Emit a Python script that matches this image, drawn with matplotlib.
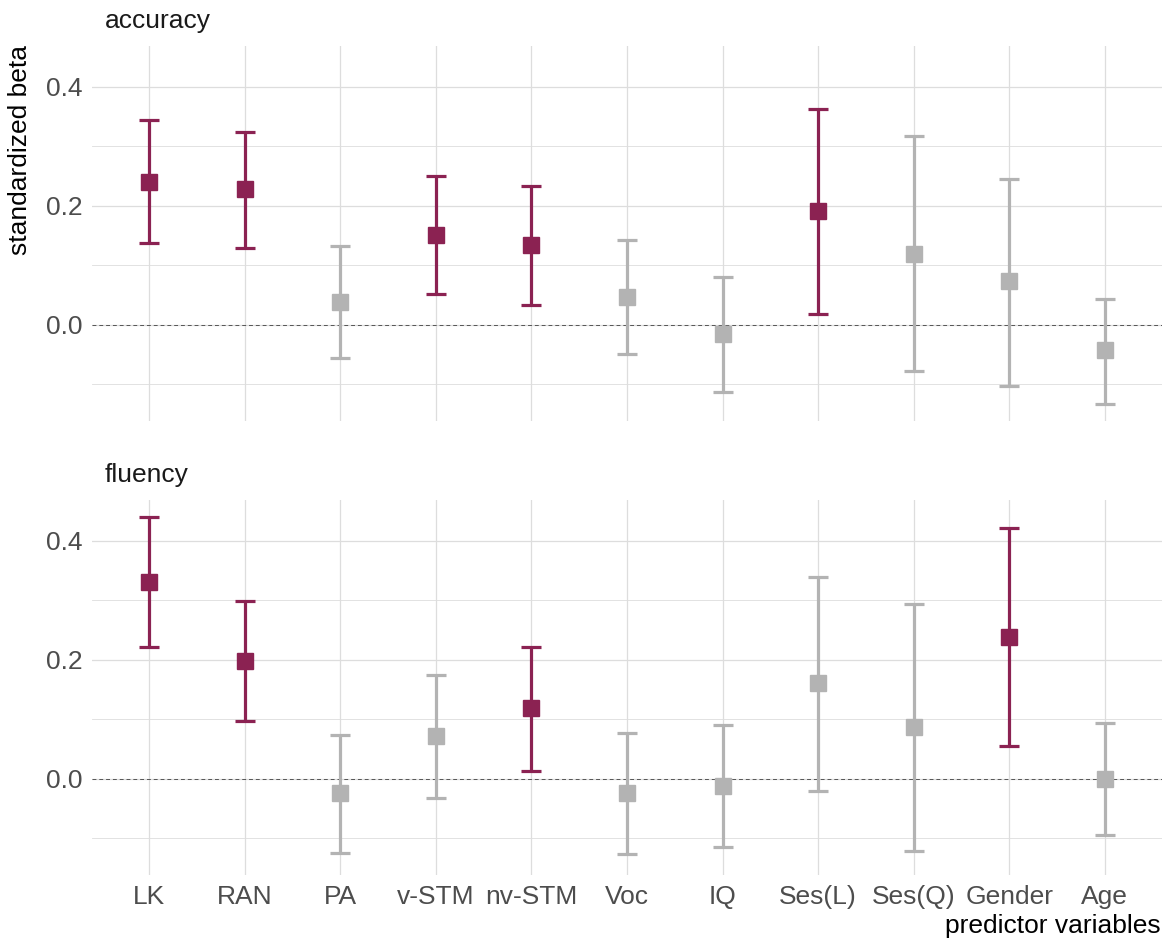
import numpy as np
import matplotlib.pyplot as plt

plt.rcParams['font.family'] = ['Liberation Sans', 'DejaVu Sans']

#predictors on the x axis
predictors = ['LK', 'RAN', 'PA', 'v-STM', 'nv-STM', 'Voc', 'IQ',
              'Ses(L)', 'Ses(Q)', 'Gender', 'Age']

#accuracy outcome: estimate, lower and upper CI bound
acc_est = [0.240, 0.228, 0.039, 0.152, 0.135, 0.047, -0.015, 0.191, 0.120, 0.073, -0.042]
acc_lo = [0.137, 0.130, -0.056, 0.052, 0.034, -0.049, -0.113, 0.019, -0.078, -0.103, -0.133]
acc_hi = [0.344, 0.324, 0.133, 0.251, 0.233, 0.143, 0.081, 0.363, 0.317, 0.246, 0.044]

#fluency outcome
flu_est = [0.331, 0.198, -0.024, 0.072, 0.119, -0.024, -0.012, 0.161, 0.087, 0.239, 0.000]
flu_lo = [0.222, 0.097, -0.124, -0.032, 0.013, -0.126, -0.114, -0.020, -0.121, 0.055, -0.094]
flu_hi = [0.440, 0.299, 0.074, 0.175, 0.222, 0.077, 0.091, 0.340, 0.294, 0.422, 0.094]

panels = ['accuracy', 'fluency']
sig_col = '#8B2252'
ns_col = '#B3B3B3'

fig = plt.figure(figsize=(11.69, 9.42), dpi=100)
ax_top = fig.add_axes([0.0787, 0.553, 0.9153, 0.398])
ax_bot = fig.add_axes([0.0787, 0.0711, 0.9153, 0.398])

#shared y range with ggplot-style 5% expansion
all_lo = min(min(acc_lo), min(flu_lo))
all_hi = max(max(acc_hi), max(flu_hi))
pad = 0.05 * (all_hi - all_lo)
ylim = (all_lo - pad, all_hi + pad)

x = np.arange(1, len(predictors) + 1)

for ax, name, est, lo, hi in [(ax_top, panels[0], acc_est, acc_lo, acc_hi),
                              (ax_bot, panels[1], flu_est, flu_lo, flu_hi)]:
    est = np.array(est)
    lo = np.array(lo)
    hi = np.array(hi)
    #significant when the CI does not cross zero
    sig = (lo > 0) | (hi < 0)
    for i in range(len(x)):
        c = sig_col if sig[i] else ns_col
        ax.errorbar(x[i], est[i], yerr=[[est[i] - lo[i]], [hi[i] - est[i]]],
                    fmt='s', color=c, ecolor=c, elinewidth=2.3, capsize=7,
                    capthick=2.3, markersize=11.5, zorder=3)
    ax.axhline(0, color='#555555', linestyle=(0, (4, 3)), linewidth=0.7, zorder=2)

    ax.set_xlim(0.4, len(predictors) + 0.6)
    ax.set_ylim(ylim)
    ax.set_yticks([0.0, 0.2, 0.4])
    ax.set_yticklabels(['0.0', '0.2', '0.4'])
    ax.set_yticks([-0.1, 0.1, 0.3], minor=True)
    ax.set_xticks(x)
    ax.grid(which='major', color='#DDDDDD', linewidth=0.9, zorder=0)
    ax.grid(which='minor', axis='y', color='#DDDDDD', linewidth=0.6, zorder=0)
    ax.set_axisbelow(True)
    for s in ax.spines.values():
        s.set_visible(False)
    ax.tick_params(which='both', length=0, labelsize=19, labelcolor='#4D4D4D', pad=7)
    ax.text(0.012, 1.035, name, transform=ax.transAxes, fontsize=19,
            ha='left', va='bottom', color='#1A1A1A')

ax_top.set_xticklabels([])
ax_bot.set_xticklabels(predictors)

fig.text(0.017, 0.952, 'standardized beta', rotation=90, ha='center', va='top',
         fontsize=19, color='black')
fig.text(0.993, 0.004, 'predictor variables', ha='right', va='bottom',
         fontsize=19, color='black')

fig.savefig('out.png', dpi=100)
